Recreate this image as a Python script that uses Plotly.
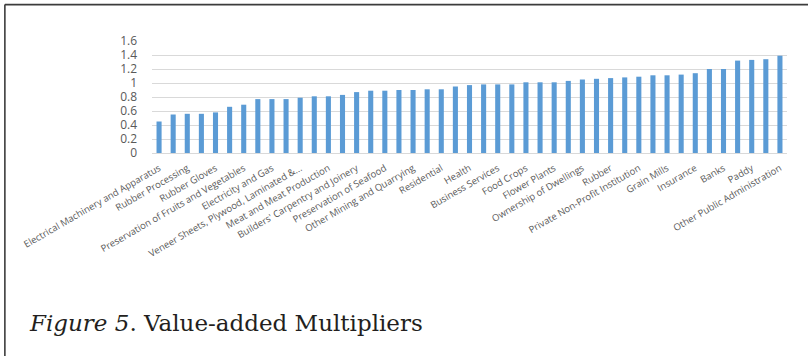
import plotly.graph_objects as go

# Labelled sectors (every other bar carries a label in the original chart)
labels = [
    "Electrical Machinery and Apparatus", "Rubber Processing", "Rubber Gloves",
    "Preservation of Fruits and Vegetables", "Electricity and Gas",
    "Veneer Sheets, Plywood, Laminated &...", "Meat and Meat Production",
    "Builders' Carpentry and Joinery", "Preservation of Seafood",
    "Other Mining and Quarrying", "Residential", "Health", "Business Services",
    "Food Crops", "Flower Plants", "Ownership of Dwellings", "Rubber",
    "Private Non-Profit Institution", "Grain Mills", "Insurance", "Banks",
    "Paddy", "Other Public Administration",
]

# Value-added multipliers for all 45 sectors (sorted ascending)
values = [
    0.45, 0.55, 0.56, 0.56, 0.58, 0.66, 0.69, 0.77, 0.77, 0.77,
    0.79, 0.81, 0.81, 0.83, 0.87, 0.89, 0.89, 0.90, 0.90, 0.91,
    0.91, 0.95, 0.97, 0.98, 0.98, 0.98, 1.01, 1.01, 1.01, 1.03,
    1.05, 1.06, 1.07, 1.08, 1.09, 1.11, 1.11, 1.12, 1.14, 1.20,
    1.20, 1.32, 1.33, 1.34, 1.39,
]

y_ticks = [0, 0.2, 0.4, 0.6, 0.8, 1, 1.2, 1.4, 1.6]
y_ticktext = ["0", "0.2", "0.4", "0.6", "0.8", "1", "1.2", "1.4", "1.6"]

positions = list(range(len(values)))
label_positions = positions[::2]

W, H = 808, 356
ML, MR, MT = 151.7, 21, 41
PB = 153.3  # pixel y of the baseline
MB = H - PB
PW = W - ML - MR
PH = PB - MT


def px_x(x):
    return (x - ML) / PW


def px_y(y):
    return (PB - y) / PH


fig = go.Figure()
fig.add_trace(go.Bar(
    x=positions, y=values,
    marker=dict(color="#5B9BD5", line=dict(width=0)),
    hoverinfo="y",
))

fig.update_layout(
    width=W, height=H,
    margin=dict(l=ML, r=MR, t=MT, b=MB, pad=0),
    paper_bgcolor="white", plot_bgcolor="white",
    bargap=0.64,
    showlegend=False,
    xaxis=dict(
        range=[-0.5, len(values) - 0.5],
        tickmode="array", tickvals=label_positions, ticktext=labels,
        tickangle=-30, tickfont=dict(family="Open Sans", size=9.5, color="#595959"),
        showgrid=False, zeroline=False,
        showline=True, linecolor="#D9D9D9", linewidth=1.3,
        ticks="outside", ticklen=5, tickcolor="rgba(0,0,0,0)",
    ),
    yaxis=dict(
        range=[0, 1.6], tickmode="array", tickvals=y_ticks, ticktext=y_ticktext,
        tickfont=dict(family="Open Sans", size=12, color="#595959"),
        showgrid=True, gridcolor="#D9D9D9", gridwidth=1,
        zeroline=False, showline=False, ticks="", ticklabelstandoff=14,
    ),
    shapes=[
        dict(type="line", xref="paper", yref="paper",
             x0=px_x(4.5), x1=px_x(W + 5), y0=px_y(4.5), y1=px_y(4.5),
             line=dict(color="#3C3C3C", width=1.6)),
        dict(type="line", xref="paper", yref="paper",
             x0=px_x(4.5), x1=px_x(4.5), y0=px_y(4.5), y1=px_y(H + 5),
             line=dict(color="#3C3C3C", width=1.6)),
    ],
    annotations=[
        dict(text="<i>Figure 5</i>. Value-added Multipliers",
             xref="paper", yref="paper", x=px_x(27), y=px_y(324),
             xanchor="left", yanchor="middle", showarrow=False,
             font=dict(family="DejaVu Serif", size=23, color="#231F20")),
    ],
)

fig.write_html("out.html")
